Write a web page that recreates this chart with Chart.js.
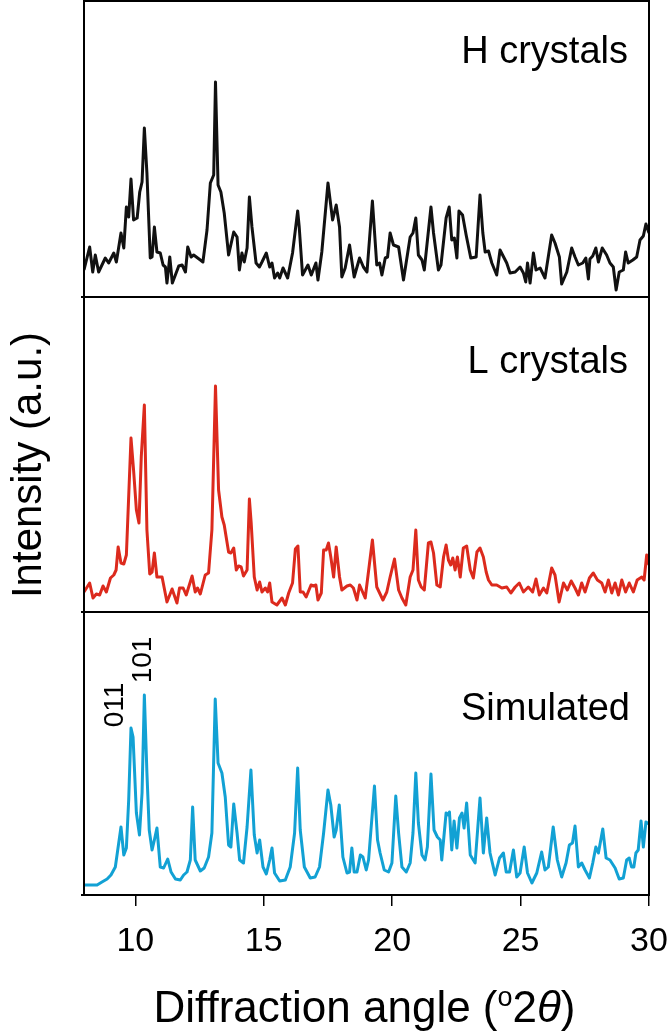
<!DOCTYPE html>
<html>
<head>
<meta charset="utf-8">
<script src="https://cdn.jsdelivr.net/npm/chart.js@4.4.1/dist/chart.umd.min.js"></script>
<style>
  html, body { margin: 0; padding: 0; background: #fff; }
  canvas { display: block; }
</style>
</head>
<body>
<canvas id="xrd" width="667" height="1031"></canvas>
<script>
// x axis ticks (degrees 2theta)
const angleTicks = [10, 15, 20, 25, 30];

// H crystals (black), intensity in a.u.
const hAngle = [8.0, 8.22, 8.34, 8.44, 8.57, 8.83, 8.96, 9.16, 9.26, 9.44, 9.55, 9.65, 9.74, 9.83, 9.93, 10.07, 10.17, 10.26, 10.35, 10.45,
  10.58, 10.65, 10.74, 10.84, 10.97, 11.08, 11.17, 11.23, 11.34, 11.44, 11.69, 11.82, 11.95, 12.04, 12.17, 12.27, 12.53, 12.63, 12.79, 12.92,
  13.05, 13.12, 13.22, 13.33, 13.46, 13.63, 13.83, 13.96, 14.05, 14.15, 14.24, 14.35, 14.44, 14.54, 14.70, 14.83, 14.93, 15.10, 15.23, 15.32,
  15.42, 15.54, 15.62, 15.75, 15.93, 16.12, 16.32, 16.38, 16.51, 16.72, 16.85, 17.03, 17.11, 17.26, 17.50, 17.68, 17.82, 17.95, 18.04, 18.17,
  18.34, 18.52, 18.73, 18.88, 19.02, 19.23, 19.40, 19.51, 19.60, 19.73, 19.82, 19.92, 20.05, 20.25, 20.44, 20.70, 20.81, 20.92, 21.02, 21.16,
  21.25, 21.51, 21.61, 21.80, 21.90, 22.10, 22.22, 22.32, 22.42, 22.52, 22.60, 22.74, 22.88, 23.06, 23.27, 23.42, 23.53, 23.62, 23.75, 23.88,
  24.07, 24.20, 24.36, 24.46, 24.59, 24.79, 24.98, 25.11, 25.20, 25.27, 25.37, 25.50, 25.60, 25.76, 25.95, 26.21, 26.34, 26.51, 26.60, 26.80,
  26.99, 27.12, 27.25, 27.42, 27.54, 27.64, 27.70, 27.81, 27.93, 28.03, 28.18, 28.35, 28.48, 28.61, 28.72, 28.84, 29.00, 29.09, 29.19, 29.37,
  29.52, 29.65, 29.78, 29.88, 30.0];
const hInt = [27, 50, 25, 42, 25, 39, 34, 44, 35, 64, 49, 90, 80, 118, 77, 79, 105, 115, 169, 124,
  39, 40, 70, 45, 44, 32, 30, 14, 40, 14, 31, 32, 25, 50, 40, 42, 37, 35, 67, 114,
  122, 215, 112, 105, 84, 42, 65, 60, 27, 44, 35, 49, 100, 70, 34, 30, 35, 44, 30, 34,
  19, 24, 19, 29, 19, 44, 86, 70, 22, 32, 22, 34, 17, 45, 114, 77, 92, 70, 20, 29,
  52, 20, 39, 30, 25, 96, 32, 34, 22, 39, 40, 64, 52, 50, 17, 60, 64, 79, 42, 37,
  27, 90, 64, 27, 32, 79, 90, 57, 59, 39, 86, 82, 62, 39, 40, 102, 64, 45, 46, 34,
  22, 47, 39, 34, 24, 25, 30, 24, 15, 34, 14, 44, 27, 29, 19, 62, 54, 40, 13, 25,
  49, 40, 32, 34, 39, 18, 38, 41, 49, 35, 49, 42, 34, 30, 7, 25, 27, 45, 34, 37,
  40, 57, 61, 73, 64];

// L crystals (red)
const lAngle = [8.0, 8.22, 8.35, 8.48, 8.61, 8.74, 8.87, 9.03, 9.16, 9.25, 9.33, 9.44, 9.55, 9.65, 9.83, 9.93, 10.04, 10.14, 10.23, 10.35,
  10.45, 10.56, 10.65, 10.74, 10.84, 11.04, 11.23, 11.43, 11.62, 11.72, 11.86, 11.98, 12.21, 12.33, 12.42, 12.53, 12.72, 12.85, 12.98, 13.12,
  13.24, 13.37, 13.46, 13.63, 13.72, 13.83, 13.93, 14.02, 14.12, 14.21, 14.35, 14.44, 14.51, 14.63, 14.74, 14.84, 14.93, 15.06, 15.15, 15.23,
  15.32, 15.51, 15.71, 15.84, 15.97, 16.12, 16.23, 16.33, 16.42, 16.53, 16.65, 16.84, 16.94, 17.03, 17.11, 17.24, 17.33, 17.43, 17.52, 17.61,
  17.72, 17.82, 17.95, 18.04, 18.24, 18.37, 18.49, 18.63, 18.73, 18.95, 19.23, 19.40, 19.64, 19.79, 19.92, 20.09, 20.25, 20.38, 20.53, 20.70,
  20.81, 20.92, 21.02, 21.13, 21.25, 21.41, 21.51, 21.61, 21.74, 21.87, 22.00, 22.10, 22.19, 22.28, 22.36, 22.45, 22.54, 22.65, 22.77, 22.90,
  23.04, 23.16, 23.30, 23.42, 23.55, 23.66, 23.75, 23.88, 24.07, 24.27, 24.46, 24.62, 24.79, 24.95, 25.11, 25.30, 25.47, 25.60, 25.73, 25.89,
  26.02, 26.21, 26.34, 26.50, 26.67, 26.82, 26.97, 27.12, 27.25, 27.38, 27.51, 27.68, 27.83, 27.99, 28.16, 28.29, 28.42, 28.55, 28.68, 28.81,
  28.94, 29.09, 29.23, 29.39, 29.54, 29.72, 29.81, 29.91, 30.0];
const lInt = [20, 29, 14, 18, 17, 26, 20, 34, 37, 42, 65, 49, 48, 57, 174, 142, 102, 89, 155, 207,
  82, 38, 40, 59, 35, 35, 10, 23, 9, 24, 24, 17, 36, 20, 24, 18, 37, 39, 82, 226,
  122, 95, 87, 60, 59, 64, 42, 46, 45, 36, 42, 113, 89, 35, 22, 30, 20, 24, 20, 29,
  10, 7, 14, 7, 19, 29, 63, 66, 20, 20, 15, 27, 26, 27, 12, 19, 62, 62, 69, 55,
  35, 65, 35, 22, 26, 27, 24, 12, 27, 14, 72, 25, 12, 20, 35, 53, 22, 14, 7, 35,
  42, 82, 32, 25, 22, 69, 70, 59, 27, 25, 55, 67, 52, 47, 54, 42, 55, 35, 64, 66,
  42, 34, 60, 64, 55, 40, 32, 27, 27, 24, 25, 19, 25, 29, 20, 25, 20, 33, 17, 24,
  19, 44, 37, 10, 29, 22, 31, 24, 17, 29, 20, 34, 39, 32, 29, 20, 32, 19, 29, 17,
  32, 20, 29, 20, 32, 35, 32, 57, 47];

// Simulated pattern (blue)
const sAngle = [8.0, 8.51, 8.70, 8.90, 9.05, 9.22, 9.44, 9.55, 9.65, 9.74, 9.83, 9.91, 10.04, 10.16, 10.26, 10.35, 10.45, 10.54, 10.65, 10.74,
  10.84, 10.97, 11.10, 11.26, 11.39, 11.56, 11.75, 11.88, 12.01, 12.14, 12.23, 12.33, 12.53, 12.68, 12.85, 12.98, 13.11, 13.22, 13.37, 13.50,
  13.63, 13.72, 13.83, 13.96, 14.06, 14.21, 14.35, 14.50, 14.63, 14.74, 14.84, 14.97, 15.10, 15.23, 15.32, 15.42, 15.62, 15.84, 16.03, 16.20,
  16.32, 16.42, 16.58, 16.81, 17.00, 17.17, 17.33, 17.50, 17.61, 17.74, 17.82, 17.94, 18.08, 18.24, 18.34, 18.43, 18.52, 18.63, 18.76, 18.86,
  18.99, 19.08, 19.31, 19.43, 19.53, 19.69, 19.86, 19.99, 20.14, 20.25, 20.38, 20.55, 20.70, 20.81, 20.92, 21.02, 21.16, 21.28, 21.37, 21.51,
  21.63, 21.76, 21.87, 21.93, 22.10, 22.19, 22.23, 22.32, 22.41, 22.52, 22.62, 22.72, 22.80, 22.90, 23.04, 23.23, 23.42, 23.55, 23.68, 23.81,
  24.01, 24.18, 24.33, 24.44, 24.57, 24.72, 24.85, 24.98, 25.14, 25.27, 25.44, 25.63, 25.82, 25.95, 26.08, 26.27, 26.43, 26.60, 26.77, 26.90,
  27.02, 27.12, 27.25, 27.38, 27.51, 27.68, 27.81, 27.93, 28.03, 28.20, 28.33, 28.48, 28.68, 28.84, 29.00, 29.13, 29.23, 29.32, 29.41, 29.49,
  29.58, 29.69, 29.78, 29.88, 30.0];
const sInt = [10, 10, 13, 16, 20, 28, 68, 40, 47, 95, 167, 158, 82, 60, 102, 200, 122, 65, 45, 55,
  67, 28, 27, 36, 23, 16, 15, 20, 23, 35, 88, 35, 24, 27, 38, 62, 196, 132, 122, 98,
  50, 48, 91, 62, 35, 32, 68, 125, 60, 42, 55, 28, 21, 35, 47, 22, 14, 15, 28, 62,
  127, 65, 28, 17, 18, 28, 62, 105, 90, 58, 65, 90, 38, 22, 23, 47, 23, 23, 40, 38,
  25, 35, 109, 55, 42, 25, 23, 32, 99, 62, 28, 23, 32, 62, 122, 72, 40, 35, 48, 121,
  65, 58, 55, 35, 82, 80, 83, 45, 74, 47, 77, 82, 67, 92, 40, 32, 97, 42, 77, 42,
  20, 37, 42, 23, 23, 45, 18, 22, 48, 22, 12, 22, 43, 25, 28, 68, 35, 18, 32, 50,
  52, 69, 28, 32, 25, 17, 32, 48, 42, 66, 37, 35, 27, 16, 17, 35, 37, 28, 28, 42,
  45, 74, 48, 73, 71];

function toPoints(xs, ys) {
  return xs.map((x, i) => ({ x: x, y: ys[i] }));
}

const mainFont = "'Liberation Sans', Arial, Helvetica, sans-serif";

const panelDecor = {
  id: 'panelDecor',
  afterDraw(chart) {
    const ctx = chart.ctx;
    const a = chart.chartArea;
    const sc = chart.scales;
    ctx.save();
    ctx.strokeStyle = '#000';
    ctx.lineWidth = 2;
    ['yH', 'yL', 'yS'].forEach(id => {
      const s = sc[id];
      ctx.strokeRect(a.left, s.top, a.right - a.left, s.bottom - s.top);
      ctx.beginPath();
      ctx.moveTo(a.left - 3, s.bottom);
      ctx.lineTo(a.left, s.bottom);
      ctx.stroke();
    });

    // panel names
    ctx.fillStyle = '#000';
    ctx.font = '38px ' + mainFont;
    ctx.textAlign = 'right';
    ctx.textBaseline = 'alphabetic';
    ctx.fillText('H crystals', a.right - 21, sc.yH.top + 62);
    ctx.fillText('L crystals', a.right - 21, sc.yL.top + 76);
    ctx.fillText('Simulated', a.right - 19, sc.yS.top + 108);

    // reflection indices
    ctx.font = '28px ' + mainFont;
    ctx.textAlign = 'center';
    ctx.textBaseline = 'middle';
    [['011', 9.2, 93], ['101', 10.3, 48]].forEach(([t, x, dy]) => {
      ctx.save();
      ctx.translate(sc.x.getPixelForValue(x), sc.yS.top + dy);
      ctx.rotate(-Math.PI / 2);
      ctx.fillText(t, 0, 0);
      ctx.restore();
    });

    ctx.textBaseline = 'alphabetic';

    // y title
    ctx.save();
    ctx.font = '42px ' + mainFont;
    ctx.textAlign = 'center';
    ctx.translate(41, 465);
    ctx.rotate(-Math.PI / 2);
    ctx.fillText('Intensity (a.u.)', 0, 0);
    ctx.restore();

    // x title with superscript o and italic theta
    const big = '44px ' + mainFont;
    const sup = '27px ' + mainFont;
    const ital = 'italic 44px ' + mainFont;
    const parts = [['Diffraction angle (', big, 0], ['o', sup, -16], ['2', big, 0], ['\u03B8', ital, 0], [')', big, 0]];
    let total = 0;
    parts.forEach(p => { ctx.font = p[1]; total += ctx.measureText(p[0]).width; });
    let x = (a.left + a.right) / 2 - total / 2 - 2;
    ctx.textAlign = 'left';
    parts.forEach(p => {
      ctx.font = p[1];
      ctx.fillText(p[0], x, 1022 + p[2]);
      x += ctx.measureText(p[0]).width;
    });
    ctx.restore();
  }
};

const hideY = {
  stack: 'panels',
  position: 'left',
  min: 0,
  grid: { display: false },
  border: { display: false },
  ticks: { display: false },
  afterFit: s => { s.width = 84; }
};

new Chart(document.getElementById('xrd'), {
  type: 'line',
  data: {
    datasets: [
      { label: 'Simulated', data: toPoints(sAngle, sInt), yAxisID: 'yS', borderColor: '#12a1d4', borderWidth: 3 },
      { label: 'L crystals', data: toPoints(lAngle, lInt), yAxisID: 'yL', borderColor: '#dc2a1d', borderWidth: 3 },
      { label: 'H crystals', data: toPoints(hAngle, hInt), yAxisID: 'yH', borderColor: '#111111', borderWidth: 3 }
    ]
  },
  options: {
    responsive: false,
    animation: false,
    devicePixelRatio: 1,
    layout: { padding: { top: 1, right: 18, left: 0, bottom: 0 } },
    elements: { point: { radius: 0 }, line: { tension: 0, borderJoinStyle: 'round' } },
    plugins: { legend: { display: false }, tooltip: { enabled: false } },
    scales: {
      x: {
        type: 'linear',
        position: 'bottom',
        min: 8,
        max: 30,
        afterBuildTicks: s => { s.ticks = angleTicks.map(v => ({ value: v })); },
        afterFit: s => { s.height = 136; s.paddingLeft = 0; s.paddingRight = 0; },
        border: { display: false },
        grid: { drawOnChartArea: false, drawTicks: true, tickLength: 11, color: '#000', lineWidth: 1.5 },
        ticks: {
          color: '#000',
          padding: 15,
          autoSkip: false,
          maxRotation: 0,
          font: { family: mainFont, size: 34 }
        }
      },
      yS: Object.assign({}, hideY, { max: 283, stackWeight: 283 }),
      yL: Object.assign({}, hideY, { max: 315, stackWeight: 315 }),
      yH: Object.assign({}, hideY, { max: 296, stackWeight: 296 })
    }
  },
  plugins: [panelDecor]
});
</script>
</body>
</html>
